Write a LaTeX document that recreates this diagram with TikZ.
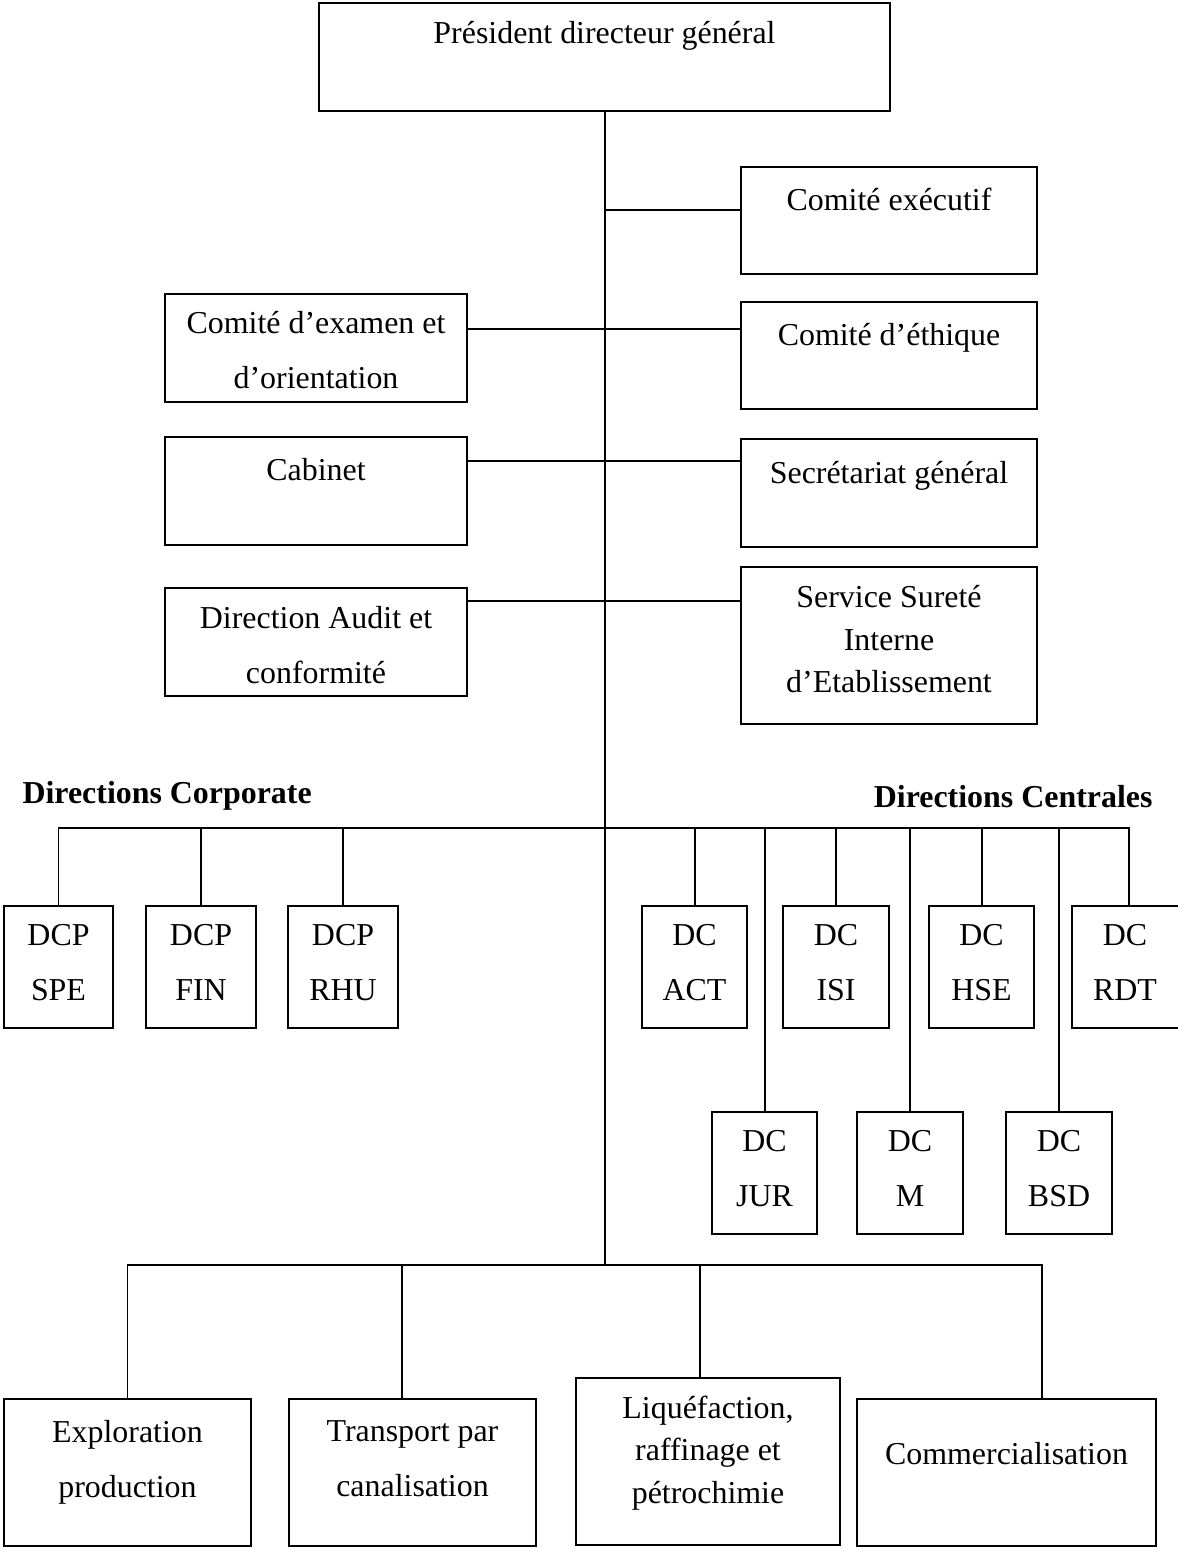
\documentclass[tikz,border=0pt]{standalone}
\usepackage{fontspec}
\setmainfont{Liberation Serif}
\usetikzlibrary{fit}

\begin{document}
\begin{tikzpicture}[x=0.376pt, y=-0.376pt,
    box/.style={draw, line width=0.75pt, inner sep=0pt},
    link/.style={line width=0.75pt},
    txt/.style={font=\fontsize{12}{20.7}\selectfont, align=center, anchor=north, inner sep=0pt},
    txtc/.style={txt, font=\fontsize{12}{16}\selectfont},
    head/.style={font=\fontsize{12}{14}\selectfont\bfseries, inner sep=0pt}]
    \useasboundingbox (0,0) rectangle (1177,1548);

    % Direction generale et comites
    \node[box, fit={(319,3) (890,111)}] (pdg) {};
    \node[box, fit={(741,167) (1037,274)}] (exec) {};
    \node[box, fit={(165,294) (467,402)}] (examen) {};
    \node[box, fit={(741,302) (1037,409)}] (ethique) {};
    \node[box, fit={(165,437) (467,545)}] (cabinet) {};
    \node[box, fit={(741,439) (1037,547)}] (secgen) {};
    \node[box, fit={(165,588) (467,696)}] (audit) {};
    \node[box, fit={(741,567) (1037,724)}] (surete) {};

    \node[txt] (t-pdg) at (604.5,21) {Président directeur général};
    \node[txt] (t-exec) at (889,188) {Comité exécutif};
    \node[txt] (t-examen) at (316,311) {Comité d’examen et\\d’orientation};
    \node[txt] (t-ethique) at (889,323) {Comité d’éthique};
    \node[txt] (t-cabinet) at (316,458) {Cabinet};
    \node[txt] (t-secgen) at (889,461) {Secrétariat général};
    \node[txt] (t-audit) at (316,606) {Direction Audit et\\conformité};
    \node[txtc] (t-surete) at (889,585) {Service Sureté\\Interne\\d’Etablissement};

    % Directions corporate et centrales
    \node[head, anchor=base west] (corp) at (22,803) {Directions Corporate};
    \node[head, anchor=base east] (cent) at (1153,807) {Directions Centrales};

    \node[box, fit={(4,906) (113,1028)}] (spe) {};
    \node[box, fit={(146,906) (256,1028)}] (fin) {};
    \node[box, fit={(288,906) (398,1028)}] (rhu) {};
    \node[box, fit={(642,906) (747,1028)}] (act) {};
    \node[box, fit={(783,906) (889,1028)}] (isi) {};
    \node[box, fit={(929,906) (1034,1028)}] (hse) {};
    \node[box, fit={(1072,906) (1186,1028)}] (rdt) {};
    \node[box, fit={(712,1112) (817,1234)}] (jur) {};
    \node[box, fit={(857,1112) (963,1234)}] (dcm) {};
    \node[box, fit={(1006,1112) (1112,1234)}] (bsd) {};

    \node[txt] (t-spe) at (58.5,924) {DCP\\SPE};
    \node[txt] (t-fin) at (201,924) {DCP\\FIN};
    \node[txt] (t-rhu) at (343,924) {DCP\\RHU};
    \node[txt] (t-act) at (694.5,924) {DC\\ACT};
    \node[txt] (t-isi) at (836,924) {DC\\ISI};
    \node[txt] (t-hse) at (981.5,924) {DC\\HSE};
    \node[txt] (t-rdt) at (1125,924) {DC\\RDT};
    \node[txt] (t-jur) at (764.5,1130) {DC\\JUR};
    \node[txt] (t-dcm) at (910,1130) {DC\\M};
    \node[txt] (t-bsd) at (1059,1130) {DC\\BSD};

    % Activites
    \node[box, fit={(4,1399) (251,1546)}] (explo) {};
    \node[box, fit={(289,1399) (536,1546)}] (transp) {};
    \node[box, fit={(576,1378) (840,1545)}] (liquef) {};
    \node[box, fit={(857,1399) (1156,1546)}] (comm) {};

    \node[txt] (t-explo) at (127.5,1420) {Exploration\\production};
    \node[txt] (t-transp) at (412.5,1420) {Transport par\\canalisation};
    \node[txtc] (t-liquef) at (708,1395) {Liquéfaction,\\raffinage et\\pétrochimie};
    \node[txt] (t-comm) at (1006.5,1442) {Commercialisation};

    % Liaisons
    \coordinate (j1) at (604.5,210);
    \coordinate (j2) at (604.5,329);
    \coordinate (j3) at (604.5,461);
    \coordinate (j4) at (604.5,601);
    \coordinate (bus1) at (604.5,828);
    \coordinate (bus2) at (604.5,1265);
    \coordinate (bus2e) at (1042,1265);
    \coordinate (d-transp) at (402,1265);
    \coordinate (d-liquef) at (700,1265);

    \draw[link] (pdg.south) -- (pdg.south |- bus2);
    \draw[link] (j1) -- (j1 -| exec.west);
    \draw[link] (j2 -| examen.east) -- (j2 -| ethique.west);
    \draw[link] (j3 -| cabinet.east) -- (j3 -| secgen.west);
    \draw[link] (j4 -| audit.east) -- (j4 -| surete.west);

    \draw[link] (spe.north) |- (bus1) -| (rdt.north);
    \draw[link] (fin.north) -- (fin.north |- bus1);
    \draw[link] (rhu.north) -- (rhu.north |- bus1);
    \draw[link] (act.north) -- (act.north |- bus1);
    \draw[link] (isi.north) -- (isi.north |- bus1);
    \draw[link] (hse.north) -- (hse.north |- bus1);
    \draw[link] (jur.north) -- (jur.north |- bus1);
    \draw[link] (dcm.north) -- (dcm.north |- bus1);
    \draw[link] (bsd.north) -- (bsd.north |- bus1);

    \draw[link] (explo.north) |- (bus2e) -- (bus2e |- comm.north);
    \draw[link] (d-transp) -- (d-transp |- transp.north);
    \draw[link] (d-liquef) -- (d-liquef |- liquef.north);
\end{tikzpicture}
\end{document}
